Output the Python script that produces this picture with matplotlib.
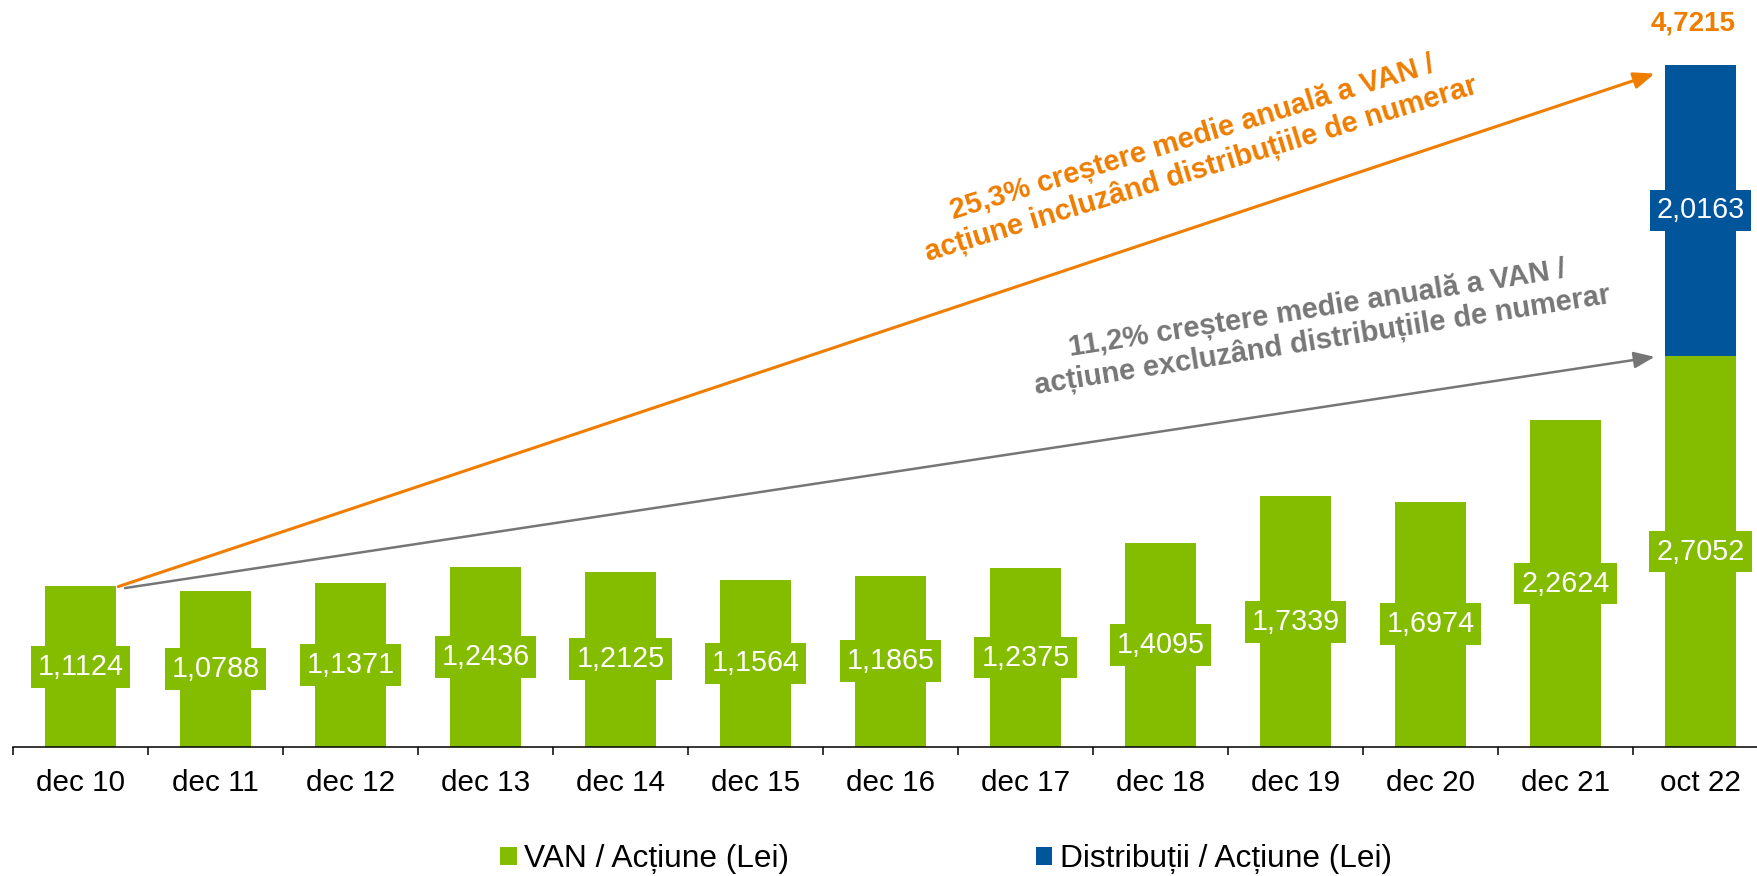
import matplotlib
matplotlib.use("Agg")
import matplotlib.pyplot as plt
from matplotlib.patches import Patch

plt.rcParams['font.family'] = ['Liberation Sans', 'DejaVu Sans']

# data
categories = ["dec 10", "dec 11", "dec 12", "dec 13", "dec 14", "dec 15", "dec 16",
              "dec 17", "dec 18", "dec 19", "dec 20", "dec 21", "oct 22"]
van = [1.1124, 1.0788, 1.1371, 1.2436, 1.2125, 1.1564, 1.1865,
       1.2375, 1.4095, 1.7339, 1.6974, 2.2624, 2.7052]
dist = [0, 0, 0, 0, 0, 0, 0, 0, 0, 0, 0, 0, 2.0163]
total_label = "4,7215"
text_incl = "25,3% creștere medie anuală a VAN /\nacțiune incluzând distribuțiile de numerar"
text_excl = "11,2% creștere medie anuală a VAN /\nacțiune excluzând distribuțiile de numerar"
legend_labels = ["VAN / Acțiune (Lei)", "Distribuții / Acțiune (Lei)"]

GREEN = "#84BC00"
BLUE = "#00559B"
ORANGE = "#EE7D00"
GREY = "#767676"

def fmt(v):
    return ("%.4f" % v).replace(".", ",")

fig = plt.figure(figsize=(17.58, 8.76), dpi=100)
ax = fig.add_axes([13 / 1758, 129 / 876, 1755 / 1758, 747 / 876])

x = list(range(len(categories)))
ax.bar(x, van, width=0.52, color=GREEN)
ax.bar(x, dist, width=0.52, bottom=van, color=BLUE)

ax.set_xlim(-0.5, len(categories) - 0.5)
ax.set_ylim(0, 747 / 144.5)

# value labels in boxes
for i in x:
    ax.text(i, van[i] / 2, fmt(van[i]), ha="center", va="center", color="white",
            fontsize=20.7, bbox=dict(boxstyle="square,pad=0.24", fc=GREEN, ec="none"))
    if dist[i] > 0:
        ax.text(i, van[i] + dist[i] / 2, fmt(dist[i]), ha="center", va="center", color="white",
                fontsize=20.7, bbox=dict(boxstyle="square,pad=0.24", fc=BLUE, ec="none"))

last = len(categories) - 1
ax.annotate(total_label, xy=(last, van[last] + dist[last]), xytext=(-5, 30),
            textcoords="offset points", ha="center", va="center",
            fontsize=20, fontweight="bold", color=ORANGE)

# growth arrows
ax.annotate("", xy=(11.66, 4.66), xytext=(0.28, 1.11),
            arrowprops=dict(arrowstyle="-|>,head_length=0.5,head_width=0.2",
                            mutation_scale=25, color=ORANGE, lw=2.2,
                            shrinkA=0, shrinkB=0))
ax.annotate("", xy=(11.66, 2.70), xytext=(0.33, 1.10),
            arrowprops=dict(arrowstyle="-|>,head_length=0.5,head_width=0.2",
                            mutation_scale=25, color=GREY, lw=1.8,
                            shrinkA=0, shrinkB=0))

ax.text(8.27, 4.105, text_incl, rotation=17, rotation_mode="anchor",
        ha="center", va="center", multialignment="center",
        fontsize=21, fontweight="bold", color=ORANGE)
ax.text(9.18, 2.92, text_excl, rotation=9, rotation_mode="anchor",
        ha="center", va="center", multialignment="center",
        fontsize=21, fontweight="bold", color=GREY)

# axes styling
for s in ["top", "right", "left"]:
    ax.spines[s].set_visible(False)
ax.spines["bottom"].set_linewidth(1.1)
ax.set_yticks([])
ax.set_xticks(x)
ax.set_xticklabels(categories, fontsize=21.3)
ax.set_xticks([i - 0.5 for i in range(len(categories) + 1)], minor=True)
ax.tick_params(axis="x", which="major", length=0, pad=16)
ax.tick_params(axis="x", which="minor", length=6, width=1.1, direction="out")

handles = [Patch(facecolor=GREEN), Patch(facecolor=BLUE)]
fig.legend(handles, legend_labels, loc="center", bbox_to_anchor=(946 / 1758, 17 / 876),
           ncol=2, frameon=False, fontsize=22.8, handlelength=0.52, handleheight=0.5,
           handletextpad=0.23, columnspacing=7.8, borderpad=0, borderaxespad=0)

fig.savefig("out.png", dpi=100)
